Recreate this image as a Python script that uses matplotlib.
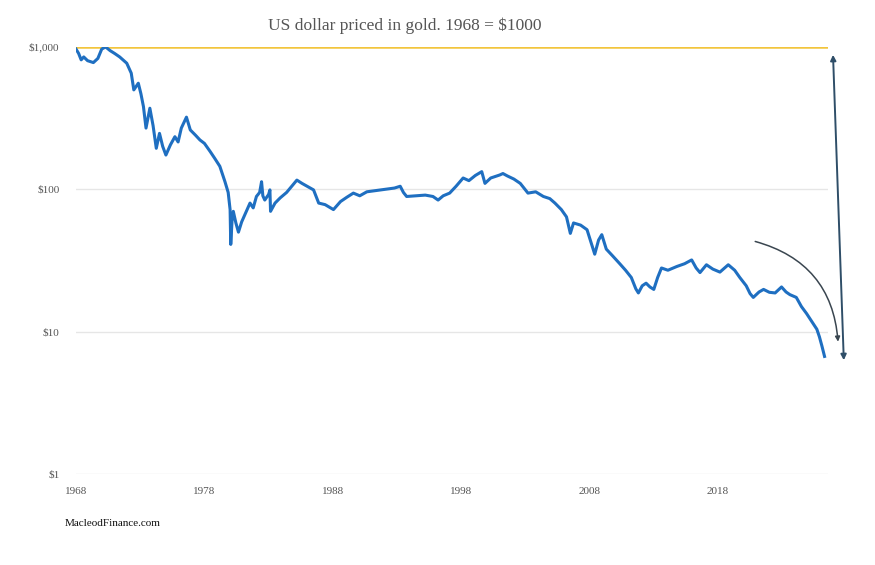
import numpy as np
import matplotlib.pyplot as plt

# values (1968 = $1000)
years = [1968.0, 1968.2, 1968.4, 1968.6, 1968.9, 1969.35, 1969.7, 1970.0, 1970.3, 1970.65,
         1971.0, 1971.4, 1971.95, 1972.3, 1972.5, 1972.85, 1973.05, 1973.25, 1973.45, 1973.75,
         1974.0, 1974.25, 1974.5, 1974.75, 1975.0, 1975.35, 1975.7, 1975.95, 1976.2, 1976.6,
         1976.9, 1977.3, 1977.65, 1978.0, 1978.45, 1978.8, 1979.2, 1979.6, 1979.85, 1980.0,
         1980.05, 1980.15, 1980.25, 1980.45, 1980.65, 1980.9, 1981.2, 1981.55, 1981.8, 1982.05,
         1982.3, 1982.45, 1982.55, 1982.7, 1983.0, 1983.1, 1983.15, 1983.5, 1983.9, 1984.4,
         1984.8, 1985.2, 1985.6, 1986.0, 1986.5, 1986.9, 1987.4, 1988.05, 1988.6, 1989.1,
         1989.6, 1990.1, 1990.65, 1991.4, 1992.2, 1992.8, 1993.25, 1993.5, 1993.75, 1994.5,
         1995.2, 1995.8, 1996.2, 1996.6, 1997.1, 1997.6, 1998.15, 1998.6, 1999.1, 1999.6,
         1999.85, 2000.3, 2001.0, 2001.25, 2001.6, 2002.1, 2002.6, 2003.2, 2003.8, 2004.4,
         2004.9, 2005.3, 2005.8, 2006.2, 2006.5, 2006.75, 2007.3, 2007.8, 2008.2, 2008.4,
         2008.7, 2008.95, 2009.3, 2009.8, 2010.35, 2010.8, 2011.25, 2011.6, 2011.8, 2012.1,
         2012.4, 2012.7, 2013.0, 2013.3, 2013.6, 2014.1, 2014.8, 2015.4, 2015.95, 2016.3,
         2016.6, 2017.1, 2017.6, 2018.15, 2018.8, 2019.3, 2019.7, 2020.2, 2020.5, 2020.75,
         2021.2, 2021.55, 2022.0, 2022.45, 2022.95, 2023.3, 2023.6, 2024.1, 2024.5, 2024.9,
         2025.3, 2025.7, 2025.9, 2026.1, 2026.3]
dollar = [965, 900, 811, 850, 800, 776, 830, 965, 1000, 942,
          900, 850, 768, 654, 499, 556, 470, 381, 269, 371,
          280, 194, 247, 200, 174, 205, 234, 215, 269, 321,
          261, 240, 222, 210, 184, 165, 145, 113, 95, 72,
          41, 60, 70, 58, 50, 59, 68, 80, 74, 89,
          95, 113, 90, 84, 92, 99, 70, 80, 87, 95,
          105, 116, 110, 105, 99, 80, 78, 72, 82, 88,
          94, 90, 96, 98, 100, 102, 105, 95, 89, 90,
          91, 89, 84, 90, 94, 105, 120, 115, 125, 133,
          110, 120, 126, 129, 124, 118, 110, 94, 96, 89,
          86, 80, 72, 64, 49, 58, 56, 52, 40, 35,
          44, 48, 38, 34, 30, 27, 24, 20, 18.7, 21,
          21.9, 20.6, 19.8, 24, 28, 27, 28.7, 30, 31.9, 28,
          26, 29.5, 27.5, 26.2, 29.5, 27, 24, 21, 18.5, 17.4,
          19, 19.8, 18.9, 18.7, 20.6, 19, 18.2, 17.4, 15, 13.4,
          11.8, 10.4, 9.2, 7.9, 6.7]

base_value = 1000
tick_years = [1968, 1978, 1988, 1998, 2008, 2018]
tick_values = [1, 10, 100, 1000]
tick_labels = ['$1', '$10', '$100', '$1,000']

plt.rcParams['font.family'] = ['Liberation Serif', 'DejaVu Serif']

fig = plt.figure(figsize=(8.75, 5.65), dpi=100)
ax = fig.add_axes([0.0869, 0.161, 0.8594, 0.756])

ax.set_yscale('log')
ax.set_ylim(1, 1000)
ax.set_xlim(1968, 2026.57)

for v in tick_values[:-1]:
    ax.axhline(v, color='#e6e6e6', lw=1, zorder=0)
ax.axhline(base_value, color='#f2c53d', lw=1.8, zorder=2)
ax.plot(years, dollar, color='#1f6fc1', lw=2.2, zorder=3)

ax.set_yticks(tick_values)
ax.set_yticklabels(tick_labels)
ax.yaxis.set_minor_locator(plt.NullLocator())
ax.set_xticks(tick_years)
ax.set_xticklabels([str(y) for y in tick_years])
ax.tick_params(axis='both', length=0, labelsize=8, colors='#555555')
ax.tick_params(axis='y', pad=12)
ax.tick_params(axis='x', pad=9)
for s in ax.spines.values():
    s.set_visible(False)

ax.set_title('US dollar priced in gold. 1968 = $1000', fontsize=12.5,
             color='#555555', pad=12, x=0.4375)

# arrows on the right
ax.annotate('', xy=(2027.8, 6.3), xytext=(2026.96, 880), annotation_clip=False,
            arrowprops=dict(arrowstyle='<|-|>', color='#2f4e68', lw=1.4,
                            mutation_scale=8, shrinkA=0, shrinkB=0))
ax.annotate('', xy=(2027.35, 8.5), xytext=(2020.9, 43), annotation_clip=False,
            arrowprops=dict(arrowstyle='-|>', color='#3a4650', lw=1.1,
                            mutation_scale=7, shrinkA=0, shrinkB=0,
                            connectionstyle='arc3,rad=-0.35'))

fig.text(65 / 875, 1 - 523 / 565, 'MacleodFinance.com', fontsize=8,
         color='#111111', va='center', ha='left')

fig.savefig('out.png', dpi=100)
